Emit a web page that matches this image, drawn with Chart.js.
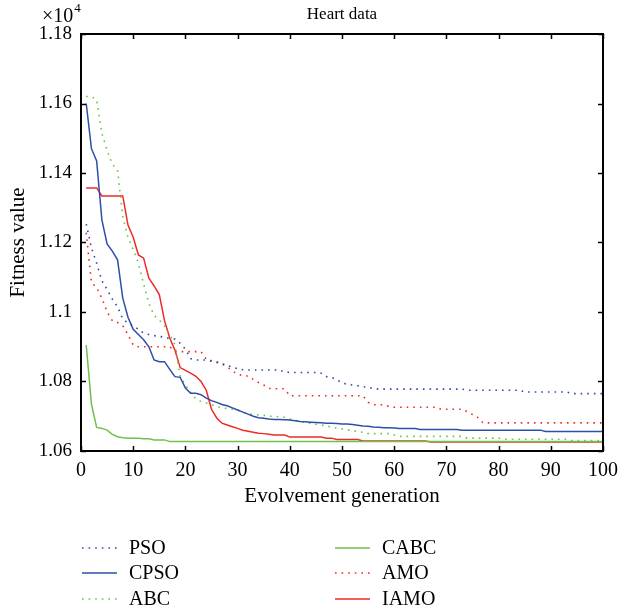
<!DOCTYPE html>
<html>
<head>
<meta charset="utf-8">
<script src="https://cdn.jsdelivr.net/npm/chart.js@4/dist/chart.umd.min.js"></script>
<style>
html,body{margin:0;padding:0;background:#fff;}
#wrap{width:626px;height:616px;}
</style>
</head>
<body>
<div id="wrap"><canvas id="c" width="626" height="616"></canvas></div>
<script>
// ---------- DATA (fitness values in units of 10^4) ----------
const generations = [1,2,3,4,5,6,7,8,9,10,11,12,13,14,15,16,17,18,19,20,
21,22,23,24,25,26,27,28,29,30,31,32,33,34,35,36,37,38,39,40,
41,42,43,44,45,46,47,48,49,50,51,52,53,54,55,56,57,58,59,60,
61,62,63,64,65,66,67,68,69,70,71,72,73,74,75,76,77,78,79,80,
81,82,83,84,85,86,87,88,89,90,91,92,93,94,95,96,97,98,99,100];

const seriesNames = ['PSO','CPSO','ABC','CABC','AMO','IAMO'];

const psoValues = [1.1253,1.1185,1.1140,1.1090,1.1065,1.1037,1.1015,1.0980,1.0968,1.0960,
1.0950,1.0939,1.0935,1.0932,1.0930,1.0927,1.0924,1.0922,1.0910,1.0893,
1.0866,1.0862,1.0862,1.0862,1.0858,1.0855,1.0851,1.0847,1.0841,1.0837,
1.0834,1.0833,1.0833,1.0833,1.0833,1.0833,1.0833,1.0833,1.0827,1.0826,
1.0826,1.0826,1.0826,1.0826,1.0826,1.0824,1.0814,1.0812,1.0805,1.0796,
1.0792,1.0790,1.0788,1.0785,1.0783,1.0780,1.0778,1.0778,1.0778,1.0778,
1.0778,1.0778,1.0778,1.0778,1.0778,1.0778,1.0778,1.0778,1.0778,1.0778,
1.0778,1.0778,1.0778,1.0775,1.0775,1.0775,1.0775,1.0775,1.0775,1.0775,
1.0775,1.0775,1.0775,1.0775,1.0770,1.0770,1.0770,1.0770,1.0770,1.0770,
1.0770,1.0770,1.0770,1.0765,1.0765,1.0765,1.0765,1.0765,1.0765,1.0765];

const cpsoValues = [1.1600,1.1470,1.1435,1.1265,1.1196,1.1175,1.1150,1.1040,1.0985,1.0950,
1.0935,1.0920,1.0900,1.0862,1.0857,1.0857,1.0835,1.0814,1.0812,1.0781,
1.0766,1.0766,1.0762,1.0752,1.0745,1.0740,1.0734,1.0730,1.0724,1.0718,
1.0712,1.0706,1.0700,1.0696,1.0694,1.0692,1.0691,1.0691,1.0690,1.0689,
1.0687,1.0685,1.0684,1.0683,1.0682,1.0681,1.0680,1.0680,1.0679,1.0678,
1.0678,1.0676,1.0674,1.0672,1.0671,1.0669,1.0668,1.0667,1.0667,1.0666,
1.0665,1.0665,1.0665,1.0665,1.0662,1.0662,1.0662,1.0662,1.0662,1.0662,
1.0662,1.0662,1.0660,1.0660,1.0660,1.0660,1.0660,1.0660,1.0660,1.0660,
1.0660,1.0660,1.0660,1.0660,1.0660,1.0660,1.0660,1.0660,1.0656,1.0656,
1.0656,1.0656,1.0656,1.0656,1.0656,1.0656,1.0656,1.0656,1.0656,1.0656];

const abcValues = [1.1620,1.1620,1.1610,1.1514,1.1465,1.1425,1.1409,1.1274,1.1215,1.1180,
1.1140,1.1080,1.1025,1.0990,1.0977,1.0960,1.0935,1.0905,1.0815,1.0790,
1.0768,1.0750,1.0742,1.0738,1.0733,1.0727,1.0725,1.0722,1.0720,1.0718,
1.0712,1.0707,1.0705,1.0704,1.0703,1.0700,1.0700,1.0698,1.0697,1.0692,
1.0688,1.0685,1.0682,1.0679,1.0677,1.0675,1.0672,1.0669,1.0666,1.0664,
1.0661,1.0659,1.0656,1.0654,1.0650,1.0650,1.0650,1.0650,1.0650,1.0646,
1.0642,1.0642,1.0642,1.0642,1.0642,1.0642,1.0642,1.0642,1.0642,1.0642,
1.0642,1.0642,1.0642,1.0637,1.0637,1.0637,1.0637,1.0637,1.0637,1.0637,
1.0634,1.0634,1.0634,1.0634,1.0634,1.0634,1.0634,1.0634,1.0634,1.0634,
1.0634,1.0634,1.0634,1.0630,1.0630,1.0630,1.0630,1.0630,1.0630,1.0630];

const cabcValues = [1.0905,1.0735,1.0668,1.0665,1.0660,1.0648,1.0641,1.0638,1.0637,1.0637,
1.0637,1.0635,1.0635,1.0632,1.0632,1.0632,1.0627,1.0627,1.0627,1.0627,
1.0627,1.0627,1.0627,1.0627,1.0627,1.0627,1.0627,1.0627,1.0627,1.0627,
1.0627,1.0627,1.0627,1.0627,1.0627,1.0627,1.0627,1.0627,1.0627,1.0627,
1.0627,1.0627,1.0627,1.0627,1.0627,1.0627,1.0627,1.0627,1.0627,1.0627,
1.0627,1.0627,1.0627,1.0627,1.0627,1.0627,1.0627,1.0627,1.0627,1.0627,
1.0627,1.0627,1.0627,1.0627,1.0627,1.0627,1.0627,1.0627,1.0627,1.0627,
1.0627,1.0627,1.0627,1.0627,1.0627,1.0627,1.0627,1.0627,1.0627,1.0627,
1.0627,1.0627,1.0627,1.0627,1.0627,1.0627,1.0627,1.0627,1.0627,1.0627,
1.0627,1.0627,1.0627,1.0627,1.0627,1.0627,1.0627,1.0627,1.0627,1.0627];

const amoValues = [1.1228,1.1085,1.1070,1.1040,1.1000,1.0975,1.0970,1.0960,1.0935,1.0905,
1.0900,1.0900,1.0900,1.0900,1.0900,1.0900,1.0900,1.0886,1.0886,1.0886,
1.0886,1.0886,1.0886,1.0864,1.0860,1.0857,1.0850,1.0842,1.0830,1.0822,
1.0816,1.0816,1.0806,1.0797,1.0790,1.0780,1.0779,1.0779,1.0779,1.0759,
1.0759,1.0759,1.0759,1.0759,1.0759,1.0759,1.0759,1.0759,1.0759,1.0759,
1.0759,1.0759,1.0759,1.0759,1.0740,1.0733,1.0733,1.0733,1.0728,1.0726,
1.0726,1.0726,1.0726,1.0726,1.0726,1.0726,1.0726,1.0726,1.0720,1.0720,
1.0720,1.0720,1.0720,1.0713,1.0705,1.0697,1.0681,1.0681,1.0681,1.0681,
1.0681,1.0681,1.0681,1.0681,1.0681,1.0681,1.0681,1.0681,1.0681,1.0681,
1.0681,1.0681,1.0681,1.0681,1.0681,1.0681,1.0681,1.0681,1.0681,1.0681];

const iamoValues = [1.1357,1.1357,1.1357,1.1334,1.1334,1.1334,1.1334,1.1334,1.1250,1.1215,
1.1164,1.1155,1.1097,1.1075,1.1050,1.0975,1.0925,1.0890,1.0840,1.0832,
1.0824,1.0815,1.0800,1.0775,1.0720,1.0695,1.0680,1.0675,1.0670,1.0665,
1.0660,1.0657,1.0654,1.0651,1.0650,1.0648,1.0646,1.0646,1.0646,1.0640,
1.0640,1.0640,1.0640,1.0640,1.0640,1.0640,1.0637,1.0637,1.0633,1.0633,
1.0633,1.0633,1.0633,1.0629,1.0629,1.0629,1.0629,1.0629,1.0629,1.0629,
1.0629,1.0629,1.0629,1.0629,1.0629,1.0629,1.0626,1.0626,1.0626,1.0626,
1.0626,1.0626,1.0626,1.0626,1.0626,1.0626,1.0626,1.0626,1.0626,1.0626,
1.0626,1.0626,1.0626,1.0626,1.0626,1.0626,1.0626,1.0626,1.0626,1.0626,
1.0626,1.0626,1.0626,1.0626,1.0626,1.0626,1.0626,1.0626,1.0626,1.0626];

const xTickValues = [0,10,20,30,40,50,60,70,80,90,100];
const yTickValues = [1.06,1.08,1.1,1.12,1.14,1.16,1.18];
const yTickLabels = ['1.06','1.08','1.1','1.12','1.14','1.16','1.18'];
const chartTitle = 'Heart data';
const xTitle = 'Evolvement generation';
const yTitle = 'Fitness value';
const yExponent = '4';

// ---------- styling ----------
const BLUE = '#2e4ea8', GREEN = '#6cc24a', RED = '#ee2a26';
const FONT = '"Liberation Serif", "DejaVu Serif", serif';
const styles = [
  {color: BLUE, dash: [1.6, 5]},
  {color: BLUE, dash: []},
  {color: GREEN, dash: [1.6, 5]},
  {color: GREEN, dash: []},
  {color: RED, dash: [1.6, 5]},
  {color: RED, dash: []}
];
const allValues = [psoValues, cpsoValues, abcValues, cabcValues, amoValues, iamoValues];

const datasets = seriesNames.map((name, i) => ({
  label: name,
  data: generations.map((g, k) => ({x: g, y: allValues[i][k]})),
  borderColor: styles[i].color,
  borderDash: styles[i].dash,
  borderWidth: styles[i].dash.length ? 1.6 : 1.5,
  pointRadius: 0,
  fill: false,
  tension: 0
}));

const decorPlugin = {
  id: 'decor',
  afterDatasetsDraw(chart) {
    const ctx = chart.ctx;
    const a = chart.chartArea;
    const xs = chart.scales.x, ys = chart.scales.y;
    ctx.save();
    // inward ticks on all four sides
    ctx.strokeStyle = '#000';
    ctx.lineWidth = 1.5;
    const tl = 5;
    xTickValues.forEach(v => {
      const px = Math.round(xs.getPixelForValue(v)) + 0.5;
      ctx.beginPath();
      ctx.moveTo(px, a.bottom); ctx.lineTo(px, a.bottom - tl);
      ctx.moveTo(px, a.top); ctx.lineTo(px, a.top + tl);
      ctx.stroke();
    });
    yTickValues.forEach(v => {
      const py = Math.round(ys.getPixelForValue(v)) + 0.5;
      ctx.beginPath();
      ctx.moveTo(a.left, py); ctx.lineTo(a.left + tl, py);
      ctx.moveTo(a.right, py); ctx.lineTo(a.right - tl, py);
      ctx.stroke();
    });
    // box
    ctx.lineWidth = 2;
    ctx.strokeRect(a.left, a.top, a.right - a.left, a.bottom - a.top);

    // texts
    ctx.fillStyle = '#000';
    ctx.textBaseline = 'middle';
    ctx.textAlign = 'center';
    ctx.font = '17px ' + FONT;
    ctx.fillText(chartTitle, (a.left + a.right) / 2, 15);
    ctx.font = '21px ' + FONT;
    ctx.fillText(xTitle, (a.left + a.right) / 2, 496);
    ctx.save();
    ctx.translate(18, (a.top + a.bottom) / 2);
    ctx.rotate(-Math.PI / 2);
    ctx.fillText(yTitle, 0, 0);
    ctx.restore();
    // exponent
    ctx.textAlign = 'left';
    ctx.textBaseline = 'alphabetic';
    ctx.font = '20px ' + FONT;
    ctx.fillText('\u00d710', 42, 22);
    const w = ctx.measureText('\u00d710').width;
    ctx.font = '13px ' + FONT;
    ctx.fillText(yExponent, 42 + w + 1, 12);

    // legend (two columns)
    const rowsY = [548, 573, 599];
    const colX = [82, 335];
    chart.data.datasets.forEach((ds, i) => {
      const col = i < 3 ? 0 : 1;
      const row = i % 3;
      const x0 = colX[col], y0 = rowsY[row];
      ctx.save();
      ctx.strokeStyle = ds.borderColor;
      ctx.lineWidth = ds.borderWidth;
      ctx.setLineDash(ds.borderDash);
      ctx.beginPath();
      ctx.moveTo(x0, y0); ctx.lineTo(x0 + 35, y0);
      ctx.stroke();
      ctx.restore();
      ctx.fillStyle = '#000';
      ctx.font = '20px ' + FONT;
      ctx.textBaseline = 'middle';
      ctx.textAlign = 'left';
      ctx.fillText(ds.label, x0 + 47, y0 + 1);
    });
    ctx.restore();
  }
};

new Chart(document.getElementById('c'), {
  type: 'line',
  data: {datasets},
  options: {
    responsive: false,
    animation: false,
    devicePixelRatio: 1,
    layout: {padding: {left: 0, top: 34, right: 16, bottom: 0}},
    plugins: {legend: {display: false}, title: {display: false}, tooltip: {enabled: false}},
    scales: {
      x: {
        type: 'linear', min: 0, max: 100,
        afterFit(s) { s.height = 165; },
        afterBuildTicks(s) { s.ticks = xTickValues.map(v => ({value: v})); },
        grid: {display: false, drawTicks: false},
        border: {display: false},
        ticks: {color: '#000', font: {family: FONT, size: 20}, padding: 8, maxRotation: 0, autoSkip: false,
          callback: v => String(v)}
      },
      y: {
        type: 'linear', min: 1.06, max: 1.18,
        afterFit(s) { s.width = 81; },
        afterBuildTicks(s) { s.ticks = yTickValues.map(v => ({value: v})); },
        grid: {display: false, drawTicks: false},
        border: {display: false},
        ticks: {color: '#000', font: {family: FONT, size: 19}, padding: 9, autoSkip: false,
          callback: (v) => { const i = yTickValues.findIndex(t => Math.abs(t - v) < 1e-9); return i >= 0 ? yTickLabels[i] : ''; }}
      }
    }
  },
  plugins: [decorPlugin]
});
</script>
</body>
</html>
